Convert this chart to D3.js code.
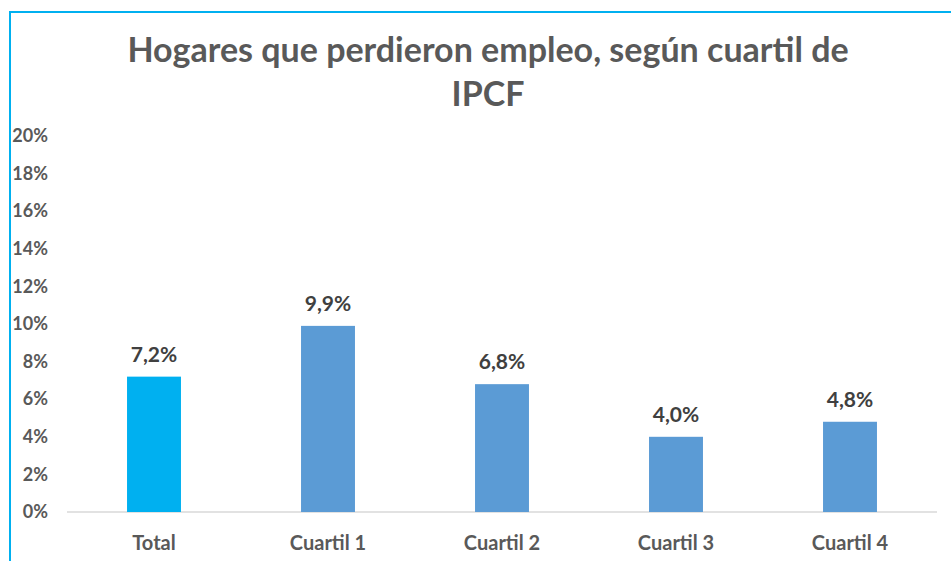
<!DOCTYPE html>
<html lang="es">
<head>
    <meta charset="utf-8">
    <title>Hogares que perdieron empleo</title>
    <script src="https://d3js.org/d3.v7.min.js"></script>
    <style>
        body { margin: 0; background: #fff; }
        svg { display: block; font-family: Lato, "Open Sans", sans-serif; }
    </style>
</head>
<body>
    <svg id="chart" width="951" height="561"></svg>
    <script>
        var categories = ["Total", "Cuartil 1", "Cuartil 2", "Cuartil 3", "Cuartil 4"];
        var values = [7.2, 9.9, 6.8, 4.0, 4.8];
        var barColors = ["#00B0F0", "#5B9BD5", "#5B9BD5", "#5B9BD5", "#5B9BD5"];
        var yTicks = [0, 2, 4, 6, 8, 10, 12, 14, 16, 18, 20];
        var titleLines = ["Hogares que perdieron empleo, según cuartil de", "IPCF"];

        var svg = d3.select("#chart");

        // chart frame (only left and top edges show in the picture)
        svg.append("rect")
            .attr("x", 10).attr("y", 12)
            .attr("width", 980).attr("height", 600)
            .attr("fill", "none")
            .attr("stroke", "#00B0F0")
            .attr("stroke-width", 2);

        svg.selectAll(".title")
            .data(titleLines)
            .enter().append("text")
            .attr("class", "title")
            .attr("x", 488)
            .attr("y", function (d, i) { return 62 + i * 44; })
            .attr("text-anchor", "middle")
            .attr("font-size", "34px")
            .attr("font-weight", "bold")
            .attr("fill", "#595959")
            .text(function (d) { return d; });

        var x = d3.scaleBand()
            .domain(categories)
            .range([67, 937])
            .paddingInner(0.69)
            .paddingOuter(0.345);

        var y = d3.scaleLinear()
            .domain([0, 20])
            .range([512, 136]);

        // y axis labels, no line
        var yAxis = svg.append("g")
            .attr("transform", "translate(48,0)")
            .call(d3.axisLeft(y).tickValues(yTicks).tickSize(0).tickPadding(0)
                .tickFormat(function (d) { return d + "%"; }));
        yAxis.select(".domain").remove();
        yAxis.selectAll("text")
            .attr("font-family", "Lato, 'Open Sans', sans-serif")
            .attr("font-size", "18px")
            .attr("font-weight", "bold")
            .attr("fill", "#595959");

        // baseline
        svg.append("line")
            .attr("x1", 67).attr("x2", 937)
            .attr("y1", y(0)).attr("y2", y(0))
            .attr("stroke", "#D9D9D9")
            .attr("stroke-width", 1.5);

        svg.selectAll(".bar")
            .data(values)
            .enter().append("rect")
            .attr("class", "bar")
            .attr("x", function (d, i) { return x(categories[i]); })
            .attr("y", function (d) { return y(d); })
            .attr("width", x.bandwidth())
            .attr("height", function (d) { return y(0) - y(d); })
            .attr("fill", function (d, i) { return barColors[i]; });

        svg.selectAll(".val")
            .data(values)
            .enter().append("text")
            .attr("class", "val")
            .attr("x", function (d, i) { return x(categories[i]) + x.bandwidth() / 2; })
            .attr("y", function (d) { return y(d) - 15; })
            .attr("text-anchor", "middle")
            .attr("font-size", "21px")
            .attr("font-weight", "bold")
            .attr("fill", "#404040")
            .text(function (d) { return d.toFixed(1).replace(".", ",") + "%"; });

        svg.selectAll(".cat")
            .data(categories)
            .enter().append("text")
            .attr("class", "cat")
            .attr("x", function (d) { return x(d) + x.bandwidth() / 2; })
            .attr("y", 550)
            .attr("text-anchor", "middle")
            .attr("font-size", "20px")
            .attr("font-weight", "bold")
            .attr("fill", "#595959")
            .text(function (d) { return d; });
    </script>
</body>
</html>
